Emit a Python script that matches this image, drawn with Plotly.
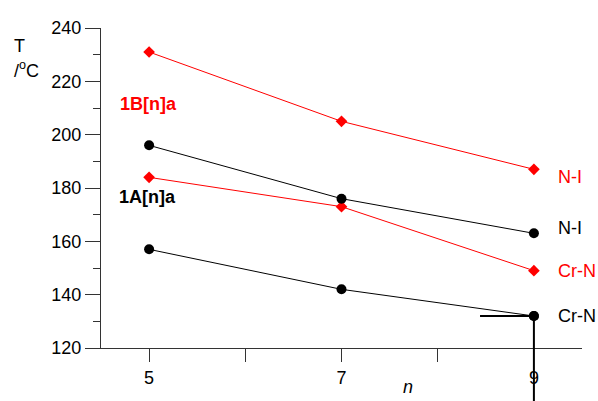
import plotly.graph_objects as go

n_vals = [5, 7, 9]
red_NI = [231, 205, 187]
red_CrN = [184, 173, 149]
black_NI = [196, 176, 163]
black_CrN = [157, 142, 132]

x_tickvals = [5, 7, 9]
y_tickvals = [120, 140, 160, 180, 200, 220, 240]
x_range = [4.5, 9.5]
y_range = [120, 240]

RED = "#ff0000"
BLACK = "#000000"
FONT = "Liberation Sans, Arial, sans-serif"

fig = go.Figure()

fig.add_trace(go.Scatter(x=n_vals, y=red_NI, mode="lines+markers",
                         line=dict(color=RED, width=1),
                         marker=dict(symbol="diamond", size=9, color=RED)))
fig.add_trace(go.Scatter(x=n_vals, y=red_CrN, mode="lines+markers",
                         line=dict(color=RED, width=1),
                         marker=dict(symbol="diamond", size=9, color=RED)))
fig.add_trace(go.Scatter(x=n_vals, y=black_NI, mode="lines+markers",
                         line=dict(color=BLACK, width=1),
                         marker=dict(symbol="circle", size=10, color=BLACK)))
fig.add_trace(go.Scatter(x=n_vals, y=black_CrN, mode="lines+markers",
                         line=dict(color=BLACK, width=1),
                         marker=dict(symbol="circle", size=10, color=BLACK)))
# stray error-bar artefact on the last black point (horizontal part)
fig.add_trace(go.Scatter(x=[n_vals[-1]], y=[black_CrN[-1]], mode="markers",
                         marker=dict(symbol="circle", size=10, color=BLACK),
                         error_x=dict(type="data", symmetric=False, array=[0], arrayminus=[0.56],
                                      color=BLACK, thickness=2, width=0)))

# vertical part of the artefact, extending below the plot area
x_dom = (n_vals[-1] - x_range[0]) / (x_range[1] - x_range[0])
y_dom = (black_CrN[-1] - y_range[0]) / (y_range[1] - y_range[0])
shapes = [dict(type="line", xref="x domain", yref="y domain",
               x0=x_dom, x1=x_dom, y0=y_dom, y1=-0.2,
               line=dict(color=BLACK, width=2), layer="above")]

annotations = [
    dict(text="N-I", x=9.23, y=184, font=dict(color=RED, size=18)),
    dict(text="N-I", x=9.23, y=165, font=dict(color=BLACK, size=18)),
    dict(text="Cr-N", x=9.23, y=149, font=dict(color=RED, size=18)),
    dict(text="Cr-N", x=9.23, y=132, font=dict(color=BLACK, size=18)),
    dict(text="<b>1B[n]a</b>", x=4.68, y=211.5, font=dict(color=RED, size=18)),
    dict(text="<b>1A[n]a</b>", x=4.67, y=176.6, font=dict(color=BLACK, size=18)),
]
for a in annotations:
    a.update(xref="x", yref="y", xanchor="left", yanchor="middle", showarrow=False)

annotations += [
    dict(text="T", xref="paper", yref="paper", x=-0.17, y=0.945, xanchor="center", yanchor="middle",
         showarrow=False, font=dict(size=18, color=BLACK)),
    dict(text="/<sup>o</sup>C", xref="paper", yref="paper", x=-0.155, y=0.87, xanchor="center", yanchor="middle",
         showarrow=False, font=dict(size=18, color=BLACK)),
    dict(text="<i>n</i>", xref="x", yref="paper", x=7.69, y=-0.122, xanchor="center", yanchor="middle",
         showarrow=False, font=dict(size=18, color=BLACK)),
]

fig.update_layout(
    width=598, height=401,
    margin=dict(l=101, r=16, t=28, b=53),
    paper_bgcolor="white", plot_bgcolor="white",
    showlegend=False,
    font=dict(family=FONT, color=BLACK, size=18),
    annotations=annotations,
    shapes=shapes,
    xaxis=dict(range=x_range, tickvals=x_tickvals,
               ticks="outside", ticklen=13, tickcolor="#333", tickwidth=1,
               showline=True, linecolor="#333", linewidth=1,
               showgrid=False, zeroline=False, tickfont=dict(size=18),
               minor=dict(dtick=1, tick0=0, ticks="outside", ticklen=13, tickcolor="#333", showgrid=False)),
    yaxis=dict(range=y_range, tickvals=y_tickvals,
               ticks="outside", ticklen=15, tickcolor="#333", tickwidth=1,
               showline=True, linecolor="#333", linewidth=1,
               showgrid=False, zeroline=False, tickfont=dict(size=18),
               minor=dict(dtick=10, tick0=0, ticks="outside", ticklen=7, tickcolor="#333", showgrid=False)),
)

fig.write_html("out.html")
